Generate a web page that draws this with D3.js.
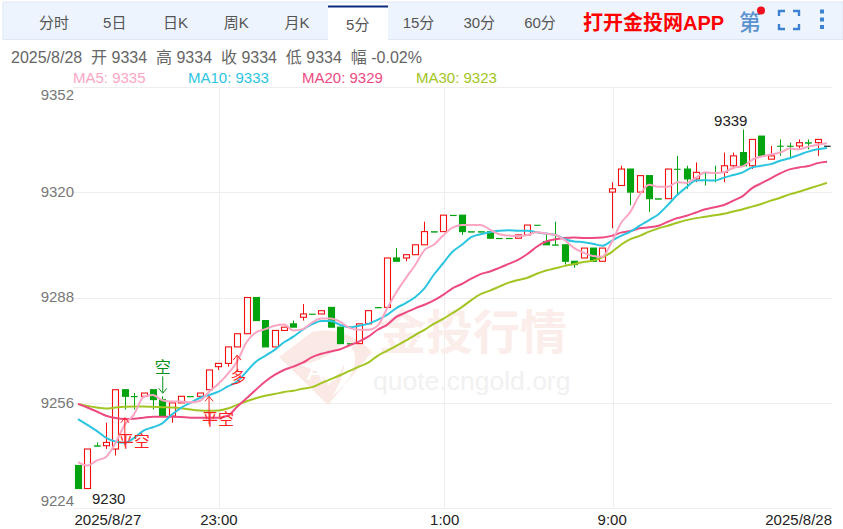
<!DOCTYPE html>
<html><head><meta charset="utf-8">
<script src="https://cdn.jsdelivr.net/npm/d3@7/dist/d3.min.js"></script>
<style>html,body{margin:0;padding:0;background:#fff;overflow:hidden}svg{display:block}
text{font-family:"Liberation Sans","Noto Sans CJK SC",sans-serif}</style></head>
<body><svg id="c" width="843" height="529"></svg>
<script>
const tabs=["分时","5日","日K","周K","月K","5分","15分","30分","60分"];
const activeTab="5分";
const infoText="2025/8/28  开 9334  高 9334  收 9334  低 9334  幅 -0.02%";
const maLegend=["MA5: 9335","MA10: 9333","MA20: 9329","MA30: 9323"];
const yTicks=[9352,9320,9288,9256,9224];
const xTickIndex=[0,15,39,57,80];
const xTickLabels=["2025/8/27","23:00","1:00","9:00","2025/8/28"];
const opens=[9237,9230,9243,9243,9242,9260,9258,9258,9260,9257,9252,9256,9258,9258,9260,9267,9268,9273,9277,9288,9281,9273,9278,9280,9282,9283,9283,9285,9279,9274,9274,9280,9285,9285,9300,9300,9301,9304,9308,9308,9313,9313,9308,9308,9308,9306,9306,9306,9307,9310,9305,9304,9304,9299,9300,9303,9299,9320,9322,9327,9320,9325,9318,9318,9327,9327,9324,9326,9326,9326,9328,9332,9328,9337,9330,9334,9334,9334,9335,9335,9334];
const closes=[9230,9242,9243,9244,9260,9258,9258,9259,9257,9252,9256,9258,9258,9259,9266,9268,9273,9277,9288,9281,9273,9278,9279,9279,9283,9283,9284,9279,9274,9274,9280,9284,9285,9300,9299,9301,9304,9308,9308,9313,9313,9308,9308,9308,9306,9306,9306,9307,9310,9310,9304,9304,9299,9298,9303,9299,9303,9321,9327,9320,9325,9318,9318,9327,9327,9324,9326,9326,9326,9328,9331,9328,9336,9331,9331,9334,9334,9335,9335,9336,9334];
const highs=[9237,9242,9244,9250,9260,9260,9259,9259,9260,9258,9256,9258,9258,9259,9266,9268,9273,9277,9288,9288,9281,9278,9279,9281,9286,9283,9284,9285,9279,9274,9280,9284,9285,9300,9303,9301,9304,9311,9308,9313,9313,9313,9308,9308,9308,9306,9306,9307,9310,9310,9307,9311,9304,9299,9303,9303,9303,9323,9328,9327,9325,9325,9318,9327,9331,9328,9329,9326,9328,9332,9332,9339,9336,9337,9334,9336,9335,9336,9336,9336,9334];
const lows=[9230,9230,9243,9242,9240,9254,9254,9258,9254,9252,9250,9256,9258,9258,9260,9266,9267,9273,9277,9281,9273,9273,9278,9279,9281,9283,9283,9279,9274,9274,9274,9280,9285,9285,9299,9299,9301,9304,9308,9308,9313,9307,9308,9308,9306,9306,9306,9306,9307,9310,9304,9304,9298,9297,9300,9299,9299,9309,9322,9316,9320,9314,9318,9318,9319,9321,9323,9322,9323,9323,9327,9328,9327,9331,9330,9331,9330,9333,9333,9331,9334];
const ma5=[9238,9237,9238.5,9239.6,9243.8,9249.4,9252.6,9257.8,9258.4,9256.8,9256.4,9256.4,9256.2,9256.6,9259.4,9261.8,9264.8,9268.6,9274.4,9277.4,9278.4,9279.4,9279.8,9278,9278.4,9280.4,9281.6,9281.6,9280.6,9278.8,9278.2,9278.2,9279.4,9284.6,9289.6,9293.8,9297.8,9302.4,9304,9306.8,9309.2,9310,9310,9310,9308.6,9307.2,9306.8,9306.6,9307,9307.8,9307.4,9307,9305.4,9303,9301.6,9300.6,9300.4,9304.8,9310.6,9314,9319.2,9322.2,9321.6,9321.6,9323,9322.8,9324.4,9326,9325.8,9326,9327.4,9327.8,9329.8,9330.8,9331.4,9332,9333.2,9333,9333.8,9334.4,9334.8];
const ma10=[9251.1,9249.3,9247.5,9245.4,9244.3,9243.9,9245.4,9247.6,9248.6,9249.8,9252.4,9254.5,9256,9257.5,9258.4,9259.4,9261,9262.5,9265.5,9268.5,9270.3,9272.1,9274.4,9276.1,9278.2,9279.9,9280.9,9280.9,9279.7,9279,9279.4,9280,9281.2,9282.7,9284.8,9286.3,9288.1,9290.8,9294.9,9298.4,9301.9,9304,9306.3,9307.2,9307.8,9308.3,9308.4,9308.3,9308.3,9307.8,9307.4,9307,9305.7,9305,9304.8,9304.3,9303.7,9305.2,9306.7,9308,9309.8,9311.5,9313.3,9316.1,9319.1,9321.5,9323.5,9323.6,9323.5,9324.4,9325.2,9326,9327.5,9328,9328.5,9329.5,9330.3,9331.3,9332.3,9333,9333.4];
const ma20=[9255.7,9254.6,9253.4,9252.1,9251.4,9251.1,9251.2,9251.5,9251.8,9251.8,9251.8,9251.7,9251.5,9251.5,9251.5,9251.5,9252.1,9254.8,9257.4,9260,9262.5,9264.5,9266,9267,9268.2,9269.9,9270.9,9271.6,9272.3,9273.5,9274.6,9276.1,9278.2,9279.7,9282.1,9283.4,9284.7,9285.8,9287.1,9288.8,9290.8,9292.1,9293.7,9295.1,9295.9,9297,9298.2,9299.4,9301.2,9303.4,9305,9305.7,9306.1,9306.2,9306.1,9306.1,9306.2,9306.7,9307.7,9308.2,9309,9309.3,9309.8,9311,9312.1,9312.8,9313.8,9314.8,9315.4,9316.1,9317.4,9318.8,9321.2,9322.7,9324.2,9325.7,9326.9,9327.5,9327.9,9328.8,9329.2];
const ma30=[9255.7,9255.1,9254.6,9254.3,9254.6,9254.8,9254.9,9254.9,9254.8,9254.7,9254.6,9254.4,9254,9253.7,9253.6,9253.7,9254.3,9255.4,9256.5,9257.4,9258.2,9258.7,9259.3,9259.7,9260.3,9260.8,9262,9263.2,9264.4,9265.7,9267,9268.2,9270.3,9271.8,9273.3,9274.9,9276.6,9278.2,9280,9281.5,9283.3,9285.1,9287.2,9289,9290.1,9291.3,9292.5,9293.3,9294,9295.2,9296.2,9296.9,9297.6,9298.2,9298.8,9299.2,9300.2,9301.8,9304,9305.7,9306.7,9308,9309,9309.8,9310.7,9311.5,9312.1,9312.5,9313,9313.4,9314.1,9314.8,9315.6,9316.4,9317.4,9318.3,9319.3,9320.1,9321,9321.9,9322.8];
const maColors=["#fba6c3","#2cc5e0","#ee4a82","#a2c523"];
const maSeries=[ma5,ma10,ma20,ma30];
const hiLabel={i:71,v:9339,text:"9339"};
const loLabel={i:2,v:9230,text:"9230"};
const signals=[{i:9,v:9258,text:"空",dir:"down",color:"#0a8f1e"},{i:5,v:9251.5,text:"平空",dir:"up",color:"#f22"},{i:14,v:9258,text:"平空",dir:"up",color:"#f22"},{i:17,v:9270.5,text:"多",dir:"up",color:"#f22"}];
const macdLabels=[["MACD",30,"#888"],["DIF: 8",85,"#20b8e8"],["DEA: 5.7",200,"#d020c0"],["MACD: 4.6",312,"#d01010"]];

const svg=d3.select("#c");
// toolbar
svg.append("rect").attr("x",3).attr("y",2).attr("width",840).attr("height",37.5).attr("fill","#eef4fd").attr("stroke","#dde8f5");
const tabX=d3.scalePoint().domain(tabs).range([54,540]);
svg.append("rect").attr("x",328).attr("y",3).attr("width",60).attr("height",38).attr("fill","#fff");
svg.append("rect").attr("x",328).attr("y",5.5).attr("width",60).attr("height",2).attr("fill","#0c2a80");
svg.append("g").selectAll("text").data(tabs).join("text").attr("x",d=>tabX(d)).attr("y",d=>d===activeTab?30:28).attr("text-anchor","middle").attr("font-size",15).attr("fill","#555").text(d=>d);
svg.append("text").attr("x",583).attr("y",30).attr("font-size",20).attr("font-weight",700).attr("fill","#f00").text("打开金投网APP");
svg.append("text").attr("x",750).attr("y",30).attr("text-anchor","middle").attr("font-size",22).attr("font-weight",500).attr("fill","#5a92cf").text("第");
svg.append("circle").attr("cx",761).attr("cy",10.5).attr("r",4).attr("fill","#f01020");
svg.append("path").attr("fill","none").attr("stroke","#3c82d2").attr("stroke-width",2.4).attr("d","M785 11H779V16M793 11H799V16M779 24V29H785M799 24V29H793");
svg.append("g").selectAll("rect").data([9.5,17.5,25]).join("rect").attr("x",820).attr("y",d=>d).attr("width",4).attr("height",4).attr("fill","#3c82d2");

svg.append("text").attr("x",11).attr("y",63).attr("font-size",16).attr("fill","#666").attr("xml:space","preserve").style("white-space","pre").text(infoText);
svg.append("g").selectAll("text").data(maLegend).join("text").attr("x",(d,i)=>[73,188,302,416][i]).attr("y",83).attr("font-size",15).attr("fill",(d,i)=>maColors[i]).text(d=>d);

const x=d3.scalePoint().domain(d3.range(closes.length)).range([78,827]);
const y=d3.scaleLinear().domain([9224,9352]).range([508.3,86.7]);
// grid
const grid=svg.append("g").attr("stroke","#eeeeee").attr("stroke-width",1);
grid.selectAll("line.h").data(yTicks).join("line").attr("x1",73).attr("x2",832).attr("y1",d=>Math.round(y(d))+.5).attr("y2",d=>Math.round(y(d))+.5);
grid.selectAll("line.v").data(xTickIndex.slice(1,-1)).join("line").attr("x1",d=>Math.round(x(d))+1.5).attr("x2",d=>Math.round(x(d))+1.5).attr("y1",y(9352)).attr("y2",y(9224));
// y axis
const yAxis=svg.append("g").attr("transform","translate(74,0)").call(d3.axisLeft(y).tickValues(yTicks).tickSize(0).tickPadding(0).tickFormat(d3.format("d")));
yAxis.select(".domain").remove();
yAxis.selectAll("text").attr("font-size",15).attr("fill","#777").attr("font-family",null).attr("dy",d=>d===9352?"0.82em":d===9224?"-0.2em":"0.28em");
// x axis
const xAxis=svg.append("g").attr("transform","translate(0,508)").call(d3.axisBottom(x).tickValues(xTickIndex).tickSize(0).tickPadding(6).tickFormat((d,i)=>xTickLabels[i]));
xAxis.select(".domain").remove();
xAxis.selectAll("text").attr("font-size",15).attr("fill","#222").attr("font-family",null).attr("text-anchor",(d,i)=>i===0?"start":i===4?"end":"middle").attr("dx",(d,i)=>i===0?-4:i===4?4.5:i===2?1:0);

// watermark
const wm=svg.append("g");
wm.append("path").attr("fill","#fbe9e5").attr("fill-rule","evenodd").attr("d","M279 357L312 332Q345 325 372 352L328 405Z M345 340Q352 365 328 385Q325 372 300 365Q330 360 345 340Z");
wm.append("path").attr("fill","#fff").attr("d","M340 338Q362 350 352 372Q348 384 332 396Q352 368 340 338Z");
wm.append("text").attr("x",307).attr("y",380).attr("font-size",25).attr("fill","#fff").text("Au");
wm.append("text").attr("x",379).attr("y",349).attr("font-size",47).attr("font-weight",700).attr("fill","#fbedea").attr("font-family","Noto Sans CJK SC").text("金投行情");
wm.append("text").attr("x",373).attr("y",390).attr("font-size",26.5).attr("fill","#f1f1f1").text("quote.cngold.org");

// candles
const bars=d3.range(closes.length).map(i=>({i,o:opens[i],c:closes[i],h:highs[i],l:lows[i]}));
const last=bars.length-1;
const col=d=>d.i===last?"#111":(d.c>d.o?"#f40f0f":"#04a30f");
const cg=svg.append("g");
const px=v=>Math.round(v)+.5;
cg.selectAll("line").data(bars).join("line").attr("x1",d=>px(x(d.i))).attr("x2",d=>px(x(d.i))).attr("y1",d=>y(d.h)).attr("y2",d=>y(d.l)).attr("stroke",col);
cg.selectAll("rect").data(bars).join("rect")
 .attr("x",d=>px(x(d.i))-3).attr("width",6)
 .attr("y",d=>y(Math.max(d.o,d.c))).attr("height",d=>Math.max(Math.abs(y(d.o)-y(d.c)),.6))
 .attr("fill",d=>d.c>d.o?"#fff":col(d)).attr("stroke",d=>col(d)).attr("stroke-width",d=>d.o===d.c?.6:1.1);

// MA lines
const line=d3.line().x((d,i)=>x(i)).y(d=>y(d)).curve(d3.curveMonotoneX);
svg.append("g").attr("fill","none").attr("stroke-width",2).selectAll("path").data([ma30,ma20,ma10,ma5]).join("path").attr("d",line).attr("stroke",d=>maColors[maSeries.indexOf(d)]);

// signals
const sg=svg.append("g").selectAll("g").data(signals).join("g");
sg.each(function(d){
  const g=d3.select(this),sx=x(d.i),top=y(d.v);
  const col=d.color;
  if(d.dir==="down"){
    g.append("text").attr("x",sx+.5).attr("y",top-23).attr("text-anchor","middle").attr("font-size",16).attr("fill",col).text(d.text);
    g.append("path").attr("fill","none").attr("stroke",col).attr("d",`M${sx+.5} ${top-20}V${top-4}M${sx-3.5} ${top-8}L${sx+.5} ${top-3}L${sx+4.5} ${top-8}`);
  }else{
    const a=d.text==="多"?17:28;
    g.append("path").attr("fill","none").attr("stroke",col).attr("d",`M${sx} ${top}V${top+a}M${sx-4} ${top+5}L${sx} ${top}L${sx+4} ${top+5}`);
    g.append("text").attr("x",d.text==="多"?sx+1:sx-7).attr("y",top+a+(d.text==="多"?11:1)).attr("font-size",16).attr("text-anchor",d.text==="多"?"middle":"start").attr("fill",col).text(d.text);
  }
});
// extremes
svg.append("text").attr("x",x(hiLabel.i)-12).attr("y",y(hiLabel.v)-4).attr("text-anchor","middle").attr("font-size",15).attr("fill","#222").text(hiLabel.text);
svg.append("text").attr("x",x(loLabel.i)+12).attr("y",y(loLabel.v)+15).attr("text-anchor","middle").attr("font-size",15).attr("fill","#222").text(loLabel.text);
// clipped MACD row
svg.append("g").selectAll("text").data(macdLabels).join("text").attr("x",d=>d[1]).attr("y",538.5).attr("font-size",15).attr("fill",d=>d[2]).text(d=>d[0]);
</script></body></html>
